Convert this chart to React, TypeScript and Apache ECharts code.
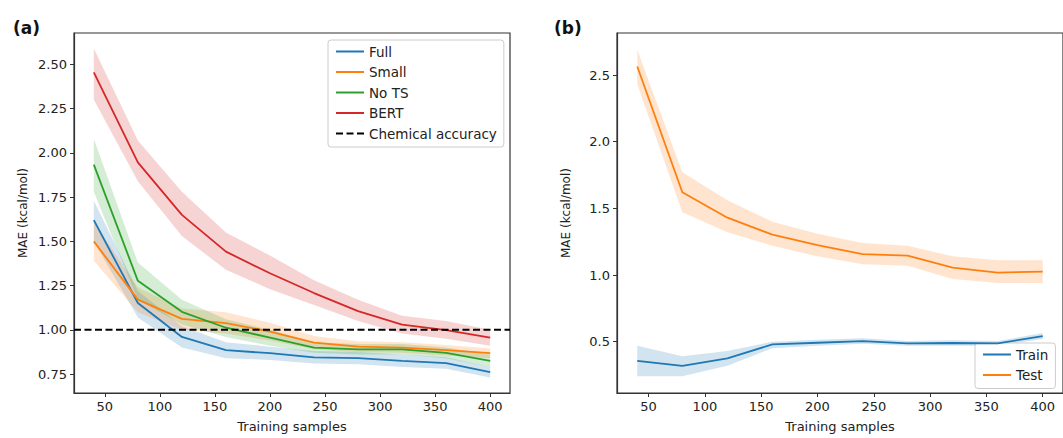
import React, { useEffect, useRef } from "react";
import * as echarts from "echarts";

const samples = [40, 80, 120, 160, 200, 240, 280, 320, 360, 400];
const xTicks = [50, 100, 150, 200, 250, 300, 350, 400];
const yTicksA = [0.75, 1.0, 1.25, 1.5, 1.75, 2.0, 2.25, 2.5];
const yTicksB = [0.5, 1.0, 1.5, 2.0, 2.5];

const fullMean = [1.62, 1.152, 0.96, 0.885, 0.868, 0.844, 0.84, 0.825, 0.812, 0.761];
const fullLow = [1.5, 1.07, 0.9, 0.84, 0.83, 0.81, 0.805, 0.79, 0.78, 0.73];
const fullHigh = [1.73, 1.22, 1.02, 0.93, 0.905, 0.88, 0.875, 0.86, 0.845, 0.79];

const smallMean = [1.5, 1.171, 1.062, 1.038, 0.99, 0.928, 0.905, 0.9, 0.885, 0.868];
const smallLow = [1.39, 1.1, 1.0, 0.98, 0.94, 0.89, 0.875, 0.87, 0.855, 0.84];
const smallHigh = [1.61, 1.24, 1.12, 1.1, 1.04, 0.965, 0.935, 0.93, 0.915, 0.895];

const notsMean = [1.934, 1.277, 1.102, 1.012, 0.956, 0.9, 0.89, 0.89, 0.87, 0.825];
const notsLow = [1.78, 1.17, 1.03, 0.96, 0.91, 0.87, 0.86, 0.86, 0.84, 0.79];
const notsHigh = [2.08, 1.38, 1.17, 1.06, 1.0, 0.93, 0.92, 0.92, 0.9, 0.86];

const bertMean = [2.455, 1.947, 1.65, 1.442, 1.32, 1.208, 1.106, 1.03, 0.999, 0.956];
const bertLow = [2.3, 1.84, 1.53, 1.34, 1.23, 1.14, 1.05, 0.98, 0.95, 0.91];
const bertHigh = [2.59, 2.07, 1.78, 1.55, 1.42, 1.28, 1.17, 1.08, 1.05, 1.0];

const testMean = [2.564, 1.621, 1.43, 1.303, 1.224, 1.157, 1.145, 1.055, 1.018, 1.025];
const testLow = [2.43, 1.47, 1.32, 1.22, 1.14, 1.08, 1.07, 0.97, 0.94, 0.94];
const testHigh = [2.69, 1.77, 1.56, 1.4, 1.31, 1.24, 1.22, 1.14, 1.11, 1.11];

const trainMean = [0.356, 0.318, 0.375, 0.479, 0.492, 0.504, 0.487, 0.49, 0.487, 0.542];
const trainLow = [0.24, 0.24, 0.32, 0.45, 0.47, 0.485, 0.47, 0.47, 0.47, 0.52];
const trainHigh = [0.47, 0.39, 0.43, 0.5, 0.515, 0.525, 0.505, 0.51, 0.505, 0.565];

const chemicalAccuracy = 1.0;

const FONT = "DejaVu Sans";
const AX = "#333";
const TXT = "#222";

const LINE_ICON = "path://M0,0h28v2h-28z";
const DASH_ICON = "path://M0,0h7v2h-7z M10.5,0h7v2h-7z M21,0h7v2h-7z";

const pairs = (ys: number[]) => samples.map((x, i) => [x, ys[i]]);

function lineSeries(name: string, ys: number[], color: string, idx: number) {
  return {
    name,
    type: "line",
    xAxisIndex: idx,
    yAxisIndex: idx,
    data: pairs(ys),
    symbol: "none",
    lineStyle: { color, width: 1.8 },
    itemStyle: { color },
    z: 5,
  };
}

function bandSeries(key: string, low: number[], high: number[], color: string, idx: number) {
  return {
    name: key + "-band",
    type: "custom",
    xAxisIndex: idx,
    yAxisIndex: idx,
    data: samples.map((x, i) => [x, low[i], high[i]]),
    encode: { x: 0, y: [1, 2] },
    silent: true,
    z: 1,
    renderItem: (params: any, api: any) => {
      if (params.dataIndex !== 0) return null;
      const n = params.dataInsideLength ?? samples.length;
      const top: number[][] = [];
      const bottom: number[][] = [];
      for (let j = 0; j < n; j++) {
        const x = api.value(0, j);
        top.push(api.coord([x, api.value(2, j)]));
        bottom.push(api.coord([x, api.value(1, j)]));
      }
      const points = top.concat(bottom.reverse());
      return {
        type: "polygon",
        shape: { points },
        style: { fill: color, opacity: 0.2 },
      };
    },
  };
}

function xAxis(idx: number) {
  return {
    type: "value",
    gridIndex: idx,
    min: 22,
    max: 418,
    name: "Training samples",
    nameLocation: "middle",
    nameGap: 27,
    nameTextStyle: { color: TXT, fontSize: 13, fontFamily: FONT },
    axisLine: { show: true, lineStyle: { color: AX, width: 1.2 } },
    axisTick: { show: true, customValues: xTicks, length: 4, lineStyle: { color: AX } },
    axisLabel: { customValues: xTicks, color: TXT, fontSize: 13, fontFamily: FONT, margin: 7 },
    splitLine: { show: false },
  };
}

function yAxis(idx: number, min: number, max: number, ticks: number[], digits: number) {
  return {
    type: "value",
    gridIndex: idx,
    min,
    max,
    name: "MAE (kcal/mol)",
    nameLocation: "middle",
    nameGap: 45,
    nameTextStyle: { color: TXT, fontSize: 12, fontFamily: FONT },
    axisLine: { show: true, lineStyle: { color: AX, width: 1.2 } },
    axisTick: { show: true, customValues: ticks, length: 4, lineStyle: { color: AX } },
    axisLabel: {
      customValues: ticks,
      color: TXT,
      fontSize: 13,
      fontFamily: FONT,
      margin: 7,
      formatter: (v: number) => v.toFixed(digits),
    },
    splitLine: { show: false },
  };
}

const C_BLUE = "#1f77b4";
const C_ORANGE = "#ff7f0e";
const C_GREEN = "#2ca02c";
const C_RED = "#d62728";

export default function App() {
  const ref = useRef<HTMLDivElement>(null);
  useEffect(() => {
    if (!ref.current) return;
    const chart = echarts.init(ref.current, undefined, { renderer: "svg" });
    const legendCommon = {
      orient: "vertical",
      itemWidth: 28,
      itemHeight: 2,
      itemGap: 5.5,
      padding: [4, 7, 6, 8],
      borderColor: "#ccc",
      borderWidth: 1,
      borderRadius: 3,
      backgroundColor: "rgba(255,255,255,0.85)",
      textStyle: { color: TXT, fontSize: 13.5, fontFamily: FONT, lineHeight: 15 },
    };
    chart.setOption({
      animation: false,
      backgroundColor: "#fff",
      title: [
        { text: "(a)", left: 8, top: 14, textStyle: { fontSize: 17, fontWeight: "bold", color: "#111", fontFamily: FONT } },
        { text: "(b)", left: 549, top: 14, textStyle: { fontSize: 17, fontWeight: "bold", color: "#111", fontFamily: FONT } },
      ],
      grid: [
        { left: 74, top: 33, width: 436, height: 363, show: true, borderColor: AX, borderWidth: 1.2, backgroundColor: "transparent" },
        { left: 617, top: 33, width: 453, height: 363, show: true, borderColor: AX, borderWidth: 1.2, backgroundColor: "transparent" },
      ],
      xAxis: [xAxis(0), xAxis(1)],
      yAxis: [yAxis(0, 0.643, 2.678, yTicksA, 2), yAxis(1, 0.115, 2.815, yTicksB, 1)],
      legend: [
        {
          ...legendCommon,
          left: 328,
          top: 40,
          data: [
            { name: "Full", icon: LINE_ICON },
            { name: "Small", icon: LINE_ICON },
            { name: "No TS", icon: LINE_ICON },
            { name: "BERT", icon: LINE_ICON },
            { name: "Chemical accuracy", icon: DASH_ICON },
          ],
        },
        {
          ...legendCommon,
          left: 975,
          top: 343,
          data: [
            { name: "Train", icon: LINE_ICON },
            { name: "Test", icon: LINE_ICON },
          ],
        },
      ],
      series: [
        bandSeries("full", fullLow, fullHigh, C_BLUE, 0),
        bandSeries("small", smallLow, smallHigh, C_ORANGE, 0),
        bandSeries("nots", notsLow, notsHigh, C_GREEN, 0),
        bandSeries("bert", bertLow, bertHigh, C_RED, 0),
        lineSeries("Full", fullMean, C_BLUE, 0),
        lineSeries("Small", smallMean, C_ORANGE, 0),
        lineSeries("No TS", notsMean, C_GREEN, 0),
        lineSeries("BERT", bertMean, C_RED, 0),
        {
          name: "Chemical accuracy",
          type: "line",
          xAxisIndex: 0,
          yAxisIndex: 0,
          data: [[22, chemicalAccuracy], [418, chemicalAccuracy]],
          symbol: "none",
          lineStyle: { color: "#000", width: 2, type: [7, 3.5] },
          itemStyle: { color: "#000" },
          z: 6,
        },
        bandSeries("train", trainLow, trainHigh, C_BLUE, 1),
        bandSeries("test", testLow, testHigh, C_ORANGE, 1),
        lineSeries("Train", trainMean, C_BLUE, 1),
        lineSeries("Test", testMean, C_ORANGE, 1),
      ],
    });
    return () => chart.dispose();
  }, []);
  return (
    <div
      ref={ref}
      style={{ position: "absolute", left: 0, top: 0, width: 1063, height: 438, overflow: "hidden" }}
    />
  );
}
